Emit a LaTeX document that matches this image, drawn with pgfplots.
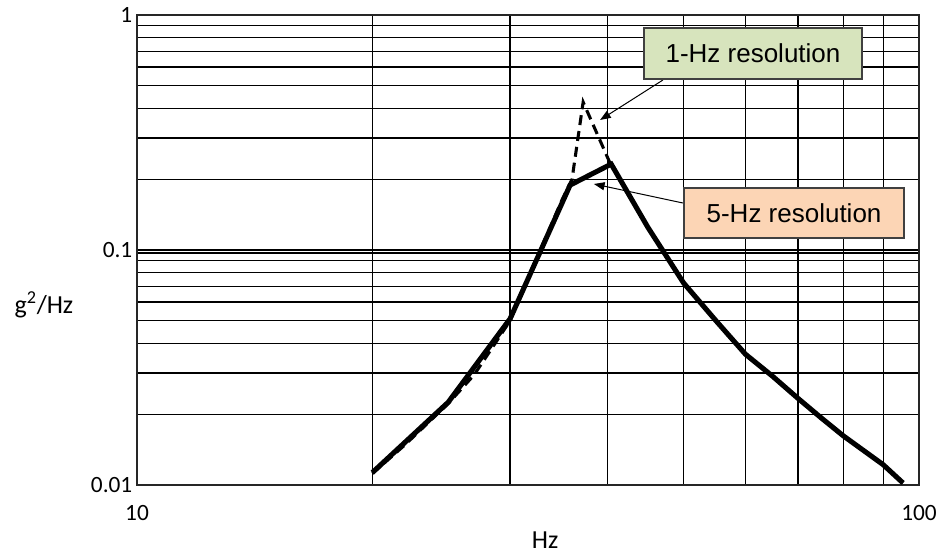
\documentclass[border=0pt]{standalone}
\usepackage{fontspec}
\setmainfont{Carlito}
\newfontfamily\arialf{Liberation Sans}
\usepackage{pgfplots}
\pgfplotsset{compat=1.18}
\usetikzlibrary{arrows.meta}
\definecolor{boxgreen}{RGB}{215,228,189}
\definecolor{boxpeach}{RGB}{252,213,181}
\begin{document}
\begin{tikzpicture}
\begin{axis}[
  xmode=log, ymode=log,
  scale only axis,
  width=586.5pt, height=352.5pt,
  xmin=10, xmax=100, ymin=0.01, ymax=1,
  grid=both,
  major grid style={black, line width=1pt},
  minor grid style={black, line width=1pt},
  axis line style={black!85, line width=1.2pt},
  xtick={10,100}, xticklabels={10,100},
  ytick={0.01,0.1,1}, yticklabels={0.01,0.1,1},
  minor xtick={20,30,40,50,60,70,80,90},
  minor ytick={0.02,0.03,0.04,0.05,0.06,0.07,0.08,0.09,0.097,0.2,0.3,0.4,0.5,0.6,0.7,0.8,0.9},
  major tick length=0pt, minor tick length=0pt,
  /pgf/number format/assume math mode=true,
  tick label style={font=\fontsize{17.5}{20}\selectfont},
  xticklabel style={yshift=-12pt},
  xlabel={Hz},
  xlabel style={at={(axis description cs:0.522,-0.117)}, anchor=center, font=\fontsize{19.5}{22}\selectfont},
  ylabel={g\textsuperscript{2}/Hz},
  ylabel style={at={(axis description cs:-0.119,0.383)}, anchor=center, rotate=-90, font=\fontsize{19.5}{22}\selectfont},
  clip=false,
]
% 1-Hz resolution (dashed)
\addplot[black, line width=2.3pt, dash pattern=on 7.5pt off 4.5pt] coordinates {
  (20,0.0112) (22,0.0148) (25,0.0222) (27,0.0295) (30,0.050) (33,0.105)
  (35,0.165) (36,0.20) (37.2,0.426) (40.2,0.237) (45,0.125) (50,0.0724)
  (55,0.050) (60,0.036) (65,0.029) (70,0.0234) (75,0.0193) (80,0.0162)
  (85,0.0140) (90,0.0122) (95.4,0.0102)
};
% 5-Hz resolution (solid)
\addplot[black, line width=3.8pt, line join=miter] coordinates {
  (20,0.0113) (25,0.0225) (30,0.051) (35.8,0.189) (40.4,0.232) (45,0.125)
  (50,0.0724) (55,0.050) (60,0.036) (65,0.029) (70,0.0234) (75,0.0193)
  (80,0.0162) (85,0.0140) (90,0.0122) (95.4,0.0102)
};
\draw[black, line width=0.75pt, -{Triangle[length=8pt,width=6pt]}] (axis cs:47.05,0.529) -- (axis cs:39.1,0.3575);
\draw[black, line width=0.75pt, -{Triangle[length=8pt,width=6pt]}] (axis cs:49.9,0.1585) -- (axis cs:38.4,0.191);
\node[draw=black!75, line width=0.9pt, fill=boxgreen, minimum width=163.5pt, minimum height=38.25pt, inner sep=0pt,
      font=\arialf\fontsize{19.5}{22}\selectfont] at (rel axis cs:0.7877,0.918) {1-Hz resolution};
\node[draw=black!75, line width=0.9pt, fill=boxpeach, minimum width=165pt, minimum height=37.5pt, inner sep=0pt,
      font=\arialf\fontsize{19.5}{22}\selectfont] at (rel axis cs:0.8402,0.5787) {5-Hz resolution};
\end{axis}
\pgfresetboundingbox
\path[use as bounding box] (current axis.south west) ++(-102.75pt,-51.75pt) rectangle ([shift={(19.5pt,11.25pt)}]current axis.north east);
\end{tikzpicture}
\end{document}
